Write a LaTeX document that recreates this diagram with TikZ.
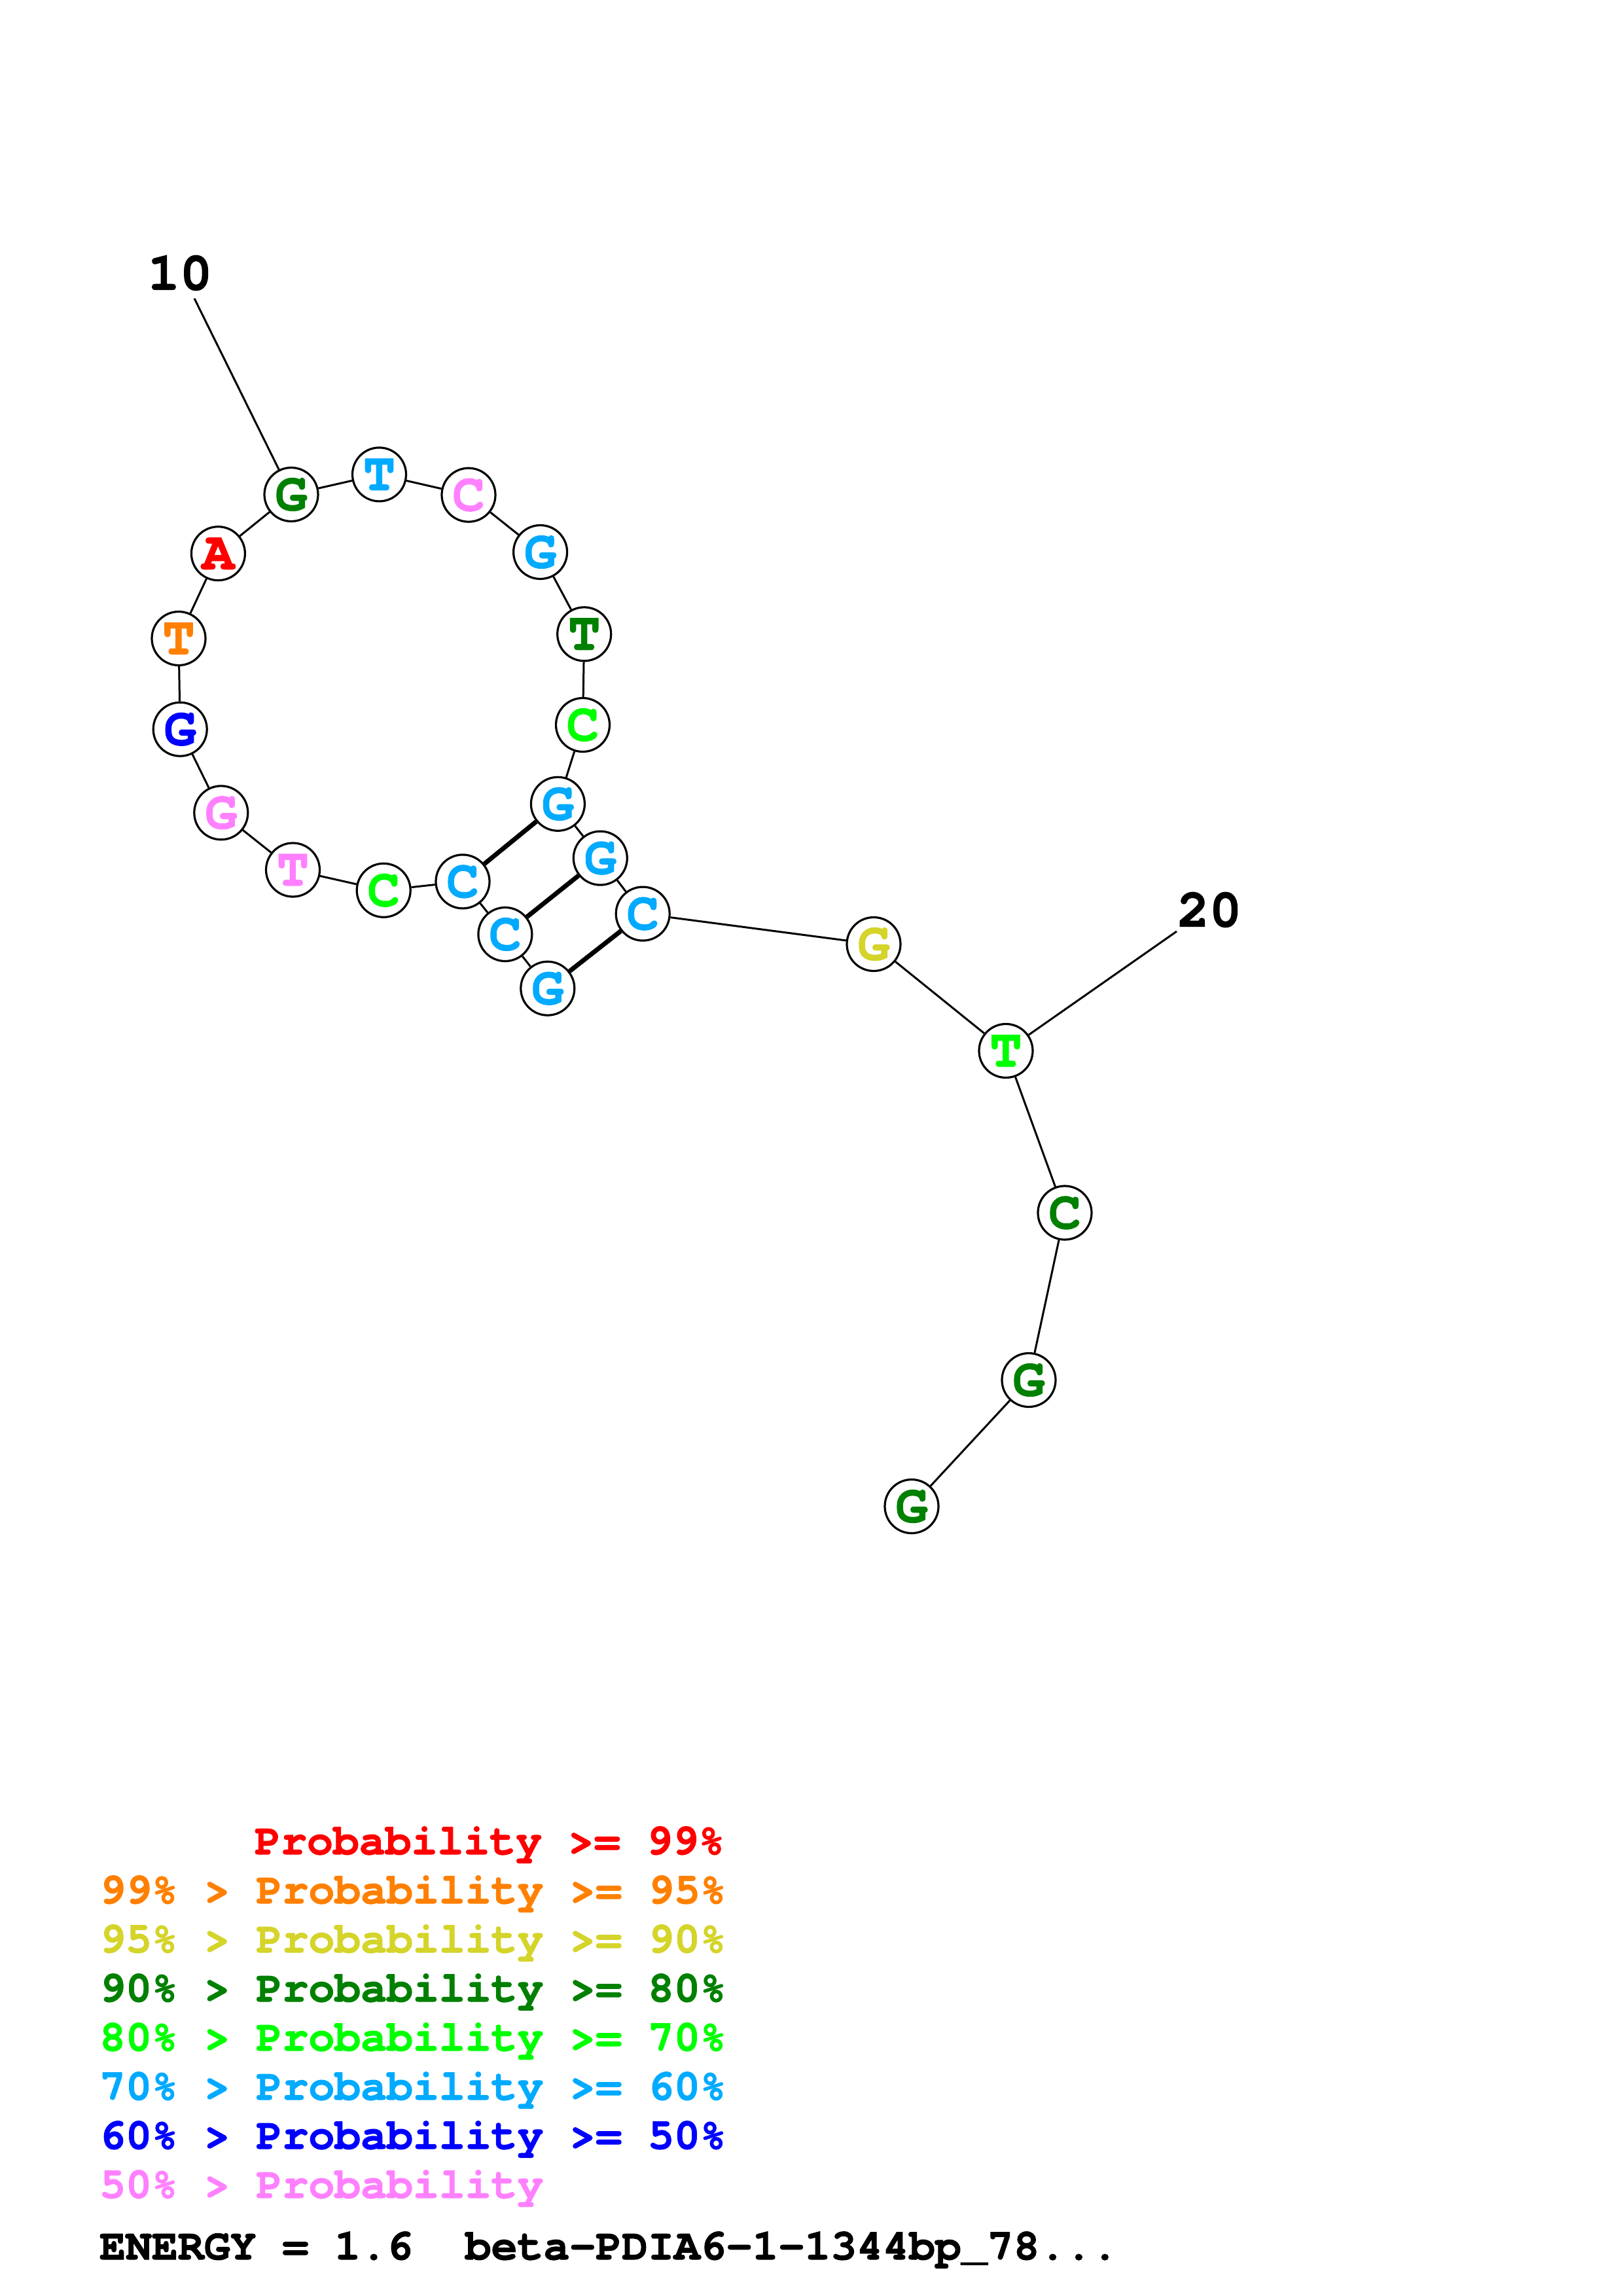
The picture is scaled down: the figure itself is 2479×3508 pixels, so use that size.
\documentclass[tikz,border=0pt]{standalone}
\usepackage{fontspec}
\newfontfamily\cour{texgyrecursor}[Extension=.otf, UprightFont=*-regular, BoldFont=*-bold, BoldFeatures={FakeBold=1.6}]
\definecolor{pr}{RGB}{255,0,0}
\definecolor{po}{RGB}{255,128,0}
\definecolor{py}{RGB}{212,212,42}
\definecolor{pdg}{RGB}{0,128,0}
\definecolor{pg}{RGB}{0,255,0}
\definecolor{pc}{RGB}{0,170,255}
\definecolor{pb}{RGB}{0,0,255}
\definecolor{pp}{RGB}{255,128,255}
\tikzset{
  nt/.style={circle, draw=black, line width=3.2pt, fill=white, minimum size=82pt, inner sep=0pt,
    font=\cour\bfseries\fontsize{82}{82}\selectfont},
  bond/.style={line width=3pt},
  pairbond/.style={line width=7pt},
  numlab/.style={font=\cour\bfseries\fontsize{82}{82}\selectfont, inner sep=0pt},
  leg/.style={anchor=base west, inner sep=0pt, font=\cour\bfseries\fontsize{66.5}{66.5}\selectfont}
}
\begin{document}
\begin{tikzpicture}[x=1pt,y=-1pt]
\useasboundingbox (0,0) rectangle (2479,3508);
\fill[white] (0,0) rectangle (2479,3508);
% nucleotides
\node[nt, text=pc]  (n1)  at (836.8,1510.2) {G};
\node[nt, text=pc]  (n2)  at (771.9,1427.5) {C};
\node[nt, text=pc]  (n3)  at (707.0,1346.9) {C};
\node[nt, text=pg]  (n4)  at (586.2,1360.3) {C};
\node[nt, text=pp]  (n5)  at (447.5,1329.0) {T};
\node[nt, text=pp]  (n6)  at (337.8,1241.8) {G};
\node[nt, text=pb]  (n7)  at (275.2,1114.2) {G};
\node[nt, text=po]  (n8)  at (273.0,975.5) {T};
\node[nt, text=pr]  (n9)  at (333.4,845.7) {A};
\node[nt, text=pdg] (n10) at (445.0,755.5) {G};
\node[nt, text=pc]  (n11) at (579.5,724.9) {T};
\node[nt, text=pp]  (n12) at (716.0,756.2) {C};
\node[nt, text=pc]  (n13) at (825.6,843.5) {G};
\node[nt, text=pdg] (n14) at (892.7,968.8) {T};
\node[nt, text=pg]  (n15) at (890.5,1107.5) {C};
\node[nt, text=pc]  (n16) at (852.4,1228.3) {G};
\node[nt, text=pc]  (n17) at (917.3,1311.1) {G};
\node[nt, text=pc]  (n18) at (982.2,1396.1) {C};
\node[nt, text=py]  (n19) at (1335.0,1442.5) {G};
\node[nt, text=pg]  (n20) at (1537.0,1605.5) {T};
\node[nt, text=pdg] (n21) at (1627.0,1853.0) {C};
\node[nt, text=pdg] (n22) at (1572.0,2108.5) {G};
\node[nt, text=pdg] (n23) at (1393.0,2301.5) {G};
% number labels
\node[numlab] (lab10) at (275,417) {10};
\coordinate (t10) at (297,456);
\node[numlab] (lab20) at (1848,1390) {20};
\coordinate (t20) at (1798,1423);
% backbone
\draw[bond] (t10) -- (n10);
\draw[bond] (t20) -- (n20);
\draw[bond] (n1) -- (n2);
\draw[bond] (n2) -- (n3);
\draw[bond] (n3) -- (n4);
\draw[bond] (n4) -- (n5);
\draw[bond] (n5) -- (n6);
\draw[bond] (n6) -- (n7);
\draw[bond] (n7) -- (n8);
\draw[bond] (n8) -- (n9);
\draw[bond] (n9) -- (n10);
\draw[bond] (n10) -- (n11);
\draw[bond] (n11) -- (n12);
\draw[bond] (n12) -- (n13);
\draw[bond] (n13) -- (n14);
\draw[bond] (n14) -- (n15);
\draw[bond] (n15) -- (n16);
\draw[bond] (n16) -- (n17);
\draw[bond] (n17) -- (n18);
\draw[bond] (n18) -- (n19);
\draw[bond] (n19) -- (n20);
\draw[bond] (n20) -- (n21);
\draw[bond] (n21) -- (n22);
\draw[bond] (n22) -- (n23);
% base pairs
\draw[pairbond] (n3) -- (n16);
\draw[pairbond] (n2) -- (n17);
\draw[pairbond] (n1) -- (n18);
% legend
\node[leg, text=pr]  (g1) at (389,2833) {Probability >= 99\%};
\node[leg, text=po]  (g2) at (152,2908) {99\% > Probability >= 95\%};
\node[leg, text=py]  (g3) at (152,2983) {95\% > Probability >= 90\%};
\node[leg, text=pdg] (g4) at (152,3058) {90\% > Probability >= 80\%};
\node[leg, text=pg]  (g5) at (152,3133) {80\% > Probability >= 70\%};
\node[leg, text=pc]  (g6) at (152,3208) {70\% > Probability >= 60\%};
\node[leg, text=pb]  (g7) at (152,3283) {60\% > Probability >= 50\%};
\node[leg, text=pp]  (g8) at (152,3358) {50\% > Probability};
\node[leg, text=black] (en) at (152,3452) {ENERGY = 1.6~~beta-PDIA6-1-1344bp\_78...};
\end{tikzpicture}
\end{document}
